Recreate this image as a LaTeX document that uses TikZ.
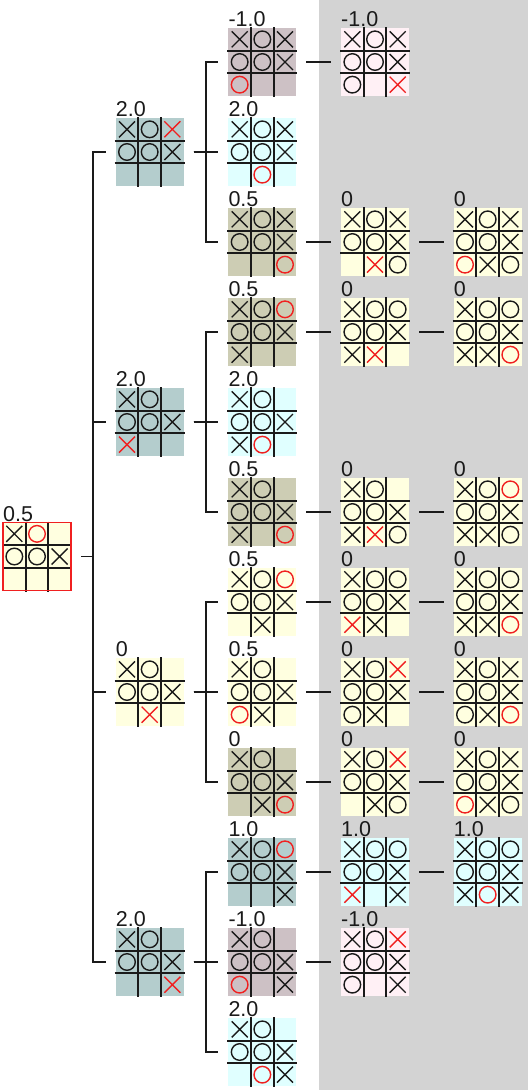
\documentclass[tikz,border=0pt]{standalone}
\usepackage{fontspec}
\setmainfont{Liberation Sans}
\usetikzlibrary{calc}
\definecolor{ink}{HTML}{1A1A1A}
\definecolor{mkred}{HTML}{F02020}
\definecolor{bggray}{HTML}{D3D3D3}
\definecolor{teal3}{HTML}{B4CDCD}
\definecolor{cyanL}{HTML}{E0FFFF}
\definecolor{pink3}{HTML}{CDC1C5}
\definecolor{pinkL}{HTML}{FFF0F5}
\definecolor{yel3}{HTML}{CDCDB4}
\definecolor{yelL}{HTML}{FFFFE0}
\tikzset{
  boardbg/.style={rectangle, minimum width=68pt, minimum height=68pt, inner sep=0pt, outer sep=0pt},
  gridln/.style={draw=ink, line width=2pt},
  mk/.style={line width=1.4pt},
  vlab/.style={anchor=base west, inner sep=0pt, font=\fontsize{21.5}{24}\selectfont, text=ink},
  conn/.style={draw=ink, line width=1.9pt},
}
\newcommand\tttboard[6]{%
  \node[boardbg,fill=#4] (#1) at (#2,#3) {};
  \node[vlab] (#1-v) at ([yshift=1.5pt]#1.north west) {#5};
  \foreach \k in {1,2} {
    \draw[gridln] ($(#1.north west)+(\k*68/3,-1)$) -- ++(0,70);
    \draw[gridln] ($(#1.north west)+(-1,\k*68/3)$) -- ++(70,0);
  }
  \foreach \c [count=\i from 0] in {#6} {
    \pgfmathtruncatemacro\rw{\i/3}
    \pgfmathtruncatemacro\cl{mod(\i,3)}
    \coordinate (mkc) at ($(#1.north west)+({(\cl+0.5)*68/3},{(\rw+0.5)*68/3})$);
    \if\c x \draw[mk,ink] (mkc) ++(-8,-8) -- ++(16,16) (mkc) ++(-8,8) -- ++(16,-16);\fi
    \if\c X \draw[mk,mkred] (mkc) ++(-8,-8) -- ++(16,16) (mkc) ++(-8,8) -- ++(16,-16);\fi
    \if\c o \draw[mk,ink] (mkc) circle[radius=8.3];\fi
    \if\c O \draw[mk,mkred] (mkc) circle[radius=8.3];\fi
  }
}
\begin{document}
\begin{tikzpicture}[x=1pt,y=-1pt]
\useasboundingbox (0,0) rectangle (528,1090);
\fill[bggray] (318.5,0) rectangle (528,1090);
% root
\tttboard{root}{37}{556.5}{yelL}{0.5}{x,O,n,o,o,x,n,n,n}
\draw[mkred,line width=1.8pt] (root.north west) rectangle (root.south east);
% level 1
\tttboard{La}{149.67}{152}{teal3}{2.0}{x,o,X,o,o,x,n,n,n}
\tttboard{Lb}{149.67}{422}{teal3}{2.0}{x,o,n,o,o,x,X,n,n}
\tttboard{Lc}{149.67}{692}{yelL}{0}{x,o,n,o,o,x,n,X,n}
\tttboard{Ld}{149.67}{962}{teal3}{2.0}{x,o,n,o,o,x,n,n,X}
% level 2
\tttboard{Ma1}{262.33}{62}{pink3}{-1.0}{x,o,x,o,o,x,O,n,n}
\tttboard{Ma2}{262.33}{152}{cyanL}{2.0}{x,o,x,o,o,x,n,O,n}
\tttboard{Ma3}{262.33}{242}{yel3}{0.5}{x,o,x,o,o,x,n,n,O}
\tttboard{Mb1}{262.33}{332}{yel3}{0.5}{x,o,O,o,o,x,x,n,n}
\tttboard{Mb2}{262.33}{422}{cyanL}{2.0}{x,o,n,o,o,x,x,O,n}
\tttboard{Mb3}{262.33}{512}{yel3}{0.5}{x,o,n,o,o,x,x,n,O}
\tttboard{Mc1}{262.33}{602}{yelL}{0.5}{x,o,O,o,o,x,n,x,n}
\tttboard{Mc2}{262.33}{692}{yelL}{0.5}{x,o,n,o,o,x,O,x,n}
\tttboard{Mc3}{262.33}{782}{yel3}{0}{x,o,n,o,o,x,n,x,O}
\tttboard{Md1}{262.33}{872}{teal3}{1.0}{x,o,O,o,o,x,n,n,x}
\tttboard{Md2}{262.33}{962}{pink3}{-1.0}{x,o,n,o,o,x,O,n,x}
\tttboard{Md3}{262.33}{1052}{cyanL}{2.0}{x,o,n,o,o,x,n,O,x}
% level 3
\tttboard{Na1}{375}{62}{pinkL}{-1.0}{x,o,x,o,o,x,o,n,X}
\tttboard{Na3}{375}{242}{yelL}{0}{x,o,x,o,o,x,n,X,o}
\tttboard{Nb1}{375}{332}{yelL}{0}{x,o,o,o,o,x,x,X,n}
\tttboard{Nb3}{375}{512}{yelL}{0}{x,o,n,o,o,x,x,X,o}
\tttboard{Nc1}{375}{602}{yelL}{0}{x,o,o,o,o,x,X,x,n}
\tttboard{Nc2}{375}{692}{yelL}{0}{x,o,X,o,o,x,o,x,n}
\tttboard{Nc3}{375}{782}{yelL}{0}{x,o,X,o,o,x,n,x,o}
\tttboard{Nd1}{375}{872}{cyanL}{1.0}{x,o,o,o,o,x,X,n,x}
\tttboard{Nd2}{375}{962}{pinkL}{-1.0}{x,o,X,o,o,x,o,n,x}
% level 4
\tttboard{Pa3}{487.67}{242}{yelL}{0}{x,o,x,o,o,x,O,x,o}
\tttboard{Pb1}{487.67}{332}{yelL}{0}{x,o,o,o,o,x,x,x,O}
\tttboard{Pb3}{487.67}{512}{yelL}{0}{x,o,O,o,o,x,x,x,o}
\tttboard{Pc1}{487.67}{602}{yelL}{0}{x,o,o,o,o,x,x,x,O}
\tttboard{Pc2}{487.67}{692}{yelL}{0}{x,o,x,o,o,x,o,x,O}
\tttboard{Pc3}{487.67}{782}{yelL}{0}{x,o,x,o,o,x,O,x,o}
\tttboard{Pd1}{487.67}{872}{cyanL}{1.0}{x,o,o,o,o,x,x,O,x}
% bracket connectors
\foreach \p/\c in {root/La,root/Lb,root/Lc,root/Ld,
  La/Ma1,La/Ma2,La/Ma3,Lb/Mb1,Lb/Mb2,Lb/Mb3,
  Lc/Mc1,Lc/Mc2,Lc/Mc3,Ld/Md1,Ld/Md2,Ld/Md3}
  \draw[conn] ([xshift=10pt]\p.east) -| ([xshift=-22.5pt]\c.west) -- ([xshift=-10pt]\c.west);
% straight connectors
\foreach \p/\c in {Ma1/Na1,Ma3/Na3,Mb1/Nb1,Mb3/Nb3,Mc1/Nc1,Mc2/Nc2,Mc3/Nc3,Md1/Nd1,Md2/Nd2,
  Na3/Pa3,Nb1/Pb1,Nb3/Pb3,Nc1/Pc1,Nc2/Pc2,Nc3/Pc3,Nd1/Pd1}
  \draw[conn] ([xshift=10pt]\p.east) -- ([xshift=-10pt]\c.west);
\end{tikzpicture}
\end{document}
